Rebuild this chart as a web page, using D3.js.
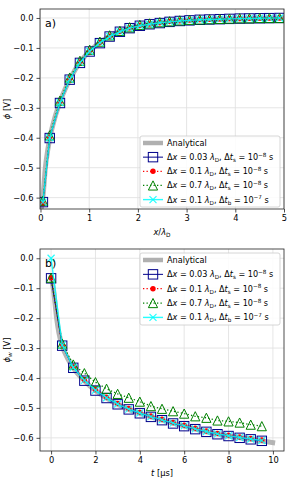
<!DOCTYPE html>
<html><head><meta charset="utf-8">
<script src="https://cdn.jsdelivr.net/npm/d3@7"></script>
<style>html,body{margin:0;padding:0;background:#fff;}svg{display:block;font-family:"DejaVu Sans",sans-serif;}</style>
</head><body>
<svg id="c" width="287" height="483"></svg>
<script>
// ---- Panel a) data: phi vs x/lambda_D
const aAnalyticX = [0, 0.03, 0.06, 0.1, 0.15, 0.2, 0.3, 0.4, 0.5, 0.6, 0.7, 0.8, 0.9, 1.0, 1.2, 1.4, 1.6, 1.8, 2.0, 2.5, 3.0, 3.5, 4.0, 4.5, 5.0];
const aAnalyticY = [-0.645, -0.625, -0.58, -0.50, -0.44, -0.395, -0.330, -0.281, -0.240, -0.206, -0.176, -0.150, -0.130, -0.112, -0.084, -0.063, -0.047, -0.035, -0.027, -0.014, -0.008, -0.005, -0.003, -0.0015, 0.0];
const aX = [0.05, 0.19, 0.40, 0.60, 0.81, 1.01, 1.22, 1.42, 1.63, 1.83, 2.04, 2.24, 2.45, 2.65, 2.86, 3.06, 3.27, 3.47, 3.68, 3.88, 4.09, 4.29, 4.50, 4.70, 4.91];
const aSq  = [-0.615, -0.401, -0.284, -0.206, -0.150, -0.112, -0.084, -0.062, -0.046, -0.034, -0.026, -0.021, -0.017, -0.013, -0.010, -0.008, -0.006, -0.005, -0.004, -0.003, -0.002, -0.0015, -0.001, -0.0005, 0.0];
const aDot = [-0.620, -0.398, -0.281, -0.204, -0.148, -0.110, -0.082, -0.061, -0.045, -0.033, -0.025, -0.020, -0.016, -0.012, -0.009, -0.007, -0.005, -0.004, -0.003, -0.002, -0.0015, -0.001, -0.0005, 0.0, 0.0];
const aTri = [-0.610, -0.392, -0.276, -0.199, -0.143, -0.106, -0.079, -0.058, -0.043, -0.031, -0.023, -0.018, -0.014, -0.011, -0.008, -0.006, -0.005, -0.004, -0.003, -0.002, -0.001, -0.001, 0.0, 0.0, 0.0];
const aCyan = [-0.615, -0.400, -0.283, -0.205, -0.149, -0.111, -0.083, -0.062, -0.046, -0.034, -0.026, -0.021, -0.016, -0.013, -0.010, -0.008, -0.006, -0.005, -0.004, -0.003, -0.002, -0.0015, -0.001, -0.0005, 0.0];
const aXTicks = [0, 1, 2, 3, 4, 5];
const aYTicks = [0.0, -0.1, -0.2, -0.3, -0.4, -0.5, -0.6];

// ---- Panel b) data: phi_w vs t [us]
const bAnalyticT = [0, 0.1, 0.25, 0.35, 0.5, 0.75, 1, 1.5, 2, 2.5, 3, 3.5, 4, 5, 6, 7, 8, 9, 10.1];
const bAnalyticY = [-0.06, -0.10, -0.20, -0.248, -0.292, -0.335, -0.366, -0.409, -0.442, -0.467, -0.488, -0.505, -0.518, -0.541, -0.561, -0.580, -0.594, -0.605, -0.617];
const bT = [0, 0.5, 1.0, 1.5, 2.0, 2.5, 3.0, 3.5, 4.0, 4.5, 5.0, 5.5, 6.0, 6.5, 7.0, 7.5, 8.0, 8.5, 9.0, 9.5];
const bSq  = [-0.067, -0.292, -0.366, -0.409, -0.442, -0.467, -0.488, -0.505, -0.518, -0.530, -0.541, -0.552, -0.561, -0.571, -0.580, -0.588, -0.594, -0.600, -0.605, -0.610];
const bDot = [-0.065, -0.290, -0.363, -0.406, -0.439, -0.464, -0.485, -0.502, -0.515, -0.527, -0.538, -0.549, -0.558, -0.568, -0.577, -0.585, -0.591, -0.597, -0.602, -0.607];
const bTri = [-0.065, -0.285, -0.355, -0.384, -0.414, -0.436, -0.453, -0.466, -0.479, -0.494, -0.503, -0.511, -0.519, -0.528, -0.533, -0.542, -0.545, -0.549, -0.556, -0.561];
const bCyan = [0.0, -0.290, -0.365, -0.408, -0.441, -0.466, -0.487, -0.504, -0.517, -0.529, -0.540, -0.551, -0.560, -0.570, -0.579, -0.587, -0.593, -0.599, -0.604, -0.609];
const bXTicks = [0, 2, 4, 6, 8, 10];
const bYTicks = [0.0, -0.1, -0.2, -0.3, -0.4, -0.5, -0.6];

// legend labels (mathtext segments)
const legendLabels = [
  [{t:"Analytical"}],
  [{t:"Δ"},{t:"x",i:1},{t:" = 0.03 "},{t:"λ",i:1},{t:"D",sub:1},{t:", Δ"},{t:"t",i:1},{t:"s",sub:1},{t:" = 10"},{t:"−8",sup:1},{t:" s"}],
  [{t:"Δ"},{t:"x",i:1},{t:" = 0.1 "},{t:"λ",i:1},{t:"D",sub:1},{t:", Δ"},{t:"t",i:1},{t:"s",sub:1},{t:" = 10"},{t:"−8",sup:1},{t:" s"}],
  [{t:"Δ"},{t:"x",i:1},{t:" = 0.7 "},{t:"λ",i:1},{t:"D",sub:1},{t:", Δ"},{t:"t",i:1},{t:"s",sub:1},{t:" = 10"},{t:"−8",sup:1},{t:" s"}],
  [{t:"Δ"},{t:"x",i:1},{t:" = 0.1 "},{t:"λ",i:1},{t:"D",sub:1},{t:", Δ"},{t:"t",i:1},{t:"b",sub:1},{t:" = 10"},{t:"−7",sup:1},{t:" s"}]
];

const svg = d3.select("#c");
const FS = 8.3;
const fmt = v => (v === 0 ? "0.0" : d3.format(".1f")(v).replace("-", "−"));

function richText(g, x, y, segs, fs, anchor) {
  const t = g.append("text").attr("x", x).attr("y", y).attr("font-size", fs).attr("fill", "#000");
  if (anchor) t.attr("text-anchor", anchor);
  let off = 0;
  segs.forEach(s => {
    const sp = t.append("tspan").text(s.t);
    let target = 0, size = fs;
    if (s.sub) { target = fs * 0.25; size = fs * 0.7; }
    if (s.sup) { target = -fs * 0.42; size = fs * 0.7; }
    sp.attr("dy", target - off).attr("font-size", size);
    off = target;
    if (s.i) sp.attr("font-style", "italic");
  });
  return t;
}

const styles = {
  sq:   {color: "#00008b"},
  dot:  {color: "#ff0000"},
  tri:  {color: "#008000"},
  cyan: {color: "#00ffff"}
};

function marker(g, kind, cx, cy) {
  if (kind === "sq") {
    g.append("rect").attr("x", cx - 4.7).attr("y", cy - 4.7).attr("width", 9.4).attr("height", 9.4)
      .attr("fill", "none").attr("stroke", styles.sq.color).attr("stroke-width", 1);
  } else if (kind === "dot") {
    g.append("circle").attr("cx", cx).attr("cy", cy).attr("r", 2.7).attr("fill", styles.dot.color);
  } else if (kind === "tri") {
    const r = 4.6;
    g.append("path").attr("d", `M${cx},${cy - r}L${cx - r},${cy + r}L${cx + r},${cy + r}Z`)
      .attr("fill", "none").attr("stroke", styles.tri.color).attr("stroke-width", 1);
  } else if (kind === "cyan") {
    const r = 3.5;
    g.append("path").attr("d", `M${cx - r},${cy - r}L${cx + r},${cy + r}M${cx - r},${cy + r}L${cx + r},${cy - r}`)
      .attr("stroke", styles.cyan.color).attr("stroke-width", 1.2).attr("stroke-opacity", 0.85).attr("fill", "none");
  }
}

function lineStyle(p, kind) {
  if (kind === "sq") p.attr("stroke", styles.sq.color).attr("stroke-width", 1);
  if (kind === "dot") p.attr("stroke", styles.dot.color).attr("stroke-width", 1.3).attr("stroke-dasharray", "1.3,2.2");
  if (kind === "tri") p.attr("stroke", styles.tri.color).attr("stroke-width", 1.3).attr("stroke-dasharray", "1.3,2.2");
  if (kind === "cyan") p.attr("stroke", styles.cyan.color).attr("stroke-width", 1.4).attr("stroke-opacity", 0.85);
  p.attr("fill", "none");
}

function panel(o) {
  const x = d3.scaleLinear().domain(o.xd).range([o.l, o.r]);
  const y = d3.scaleLinear().domain(o.yd).range([o.b, o.t]);
  const g = svg.append("g");
  const clipId = "clip" + o.id;
  svg.append("clipPath").attr("id", clipId).append("rect")
    .attr("x", o.l).attr("y", o.t).attr("width", o.r - o.l).attr("height", o.b - o.t);

  // grid
  const grid = g.append("g").attr("stroke", "#e2e2e2").attr("stroke-width", 0.9);
  o.xticks.forEach(v => grid.append("line").attr("x1", x(v)).attr("x2", x(v)).attr("y1", o.t).attr("y2", o.b));
  o.yticks.forEach(v => grid.append("line").attr("y1", y(v)).attr("y2", y(v)).attr("x1", o.l).attr("x2", o.r));

  const plot = g.append("g").attr("clip-path", `url(#${clipId})`);
  const ln = d3.line().x(d => x(d[0])).y(d => y(d[1]));
  const lnSmooth = d3.line().x(d => x(d[0])).y(d => y(d[1])).curve(d3.curveMonotoneX);

  plot.append("path").datum(o.ax.map((v, i) => [v, o.ay[i]])).attr("d", lnSmooth)
    .attr("fill", "none").attr("stroke", "#a8a8a8").attr("stroke-width", 5).attr("stroke-opacity", 0.85);

  o.series.forEach(s => {
    const pts = o.sx.map((v, i) => [v, s.v[i]]);
    const p = plot.append("path").datum(pts).attr("d", ln);
    lineStyle(p, s.kind);
    const mg = plot.append("g");
    pts.forEach(d => marker(mg, s.kind, x(d[0]), y(d[1])));
  });

  // axes
  const xa = d3.axisBottom(x).tickValues(o.xticks).tickSize(3.5).tickPadding(3).tickFormat(d3.format("d"));
  const ya = d3.axisLeft(y).tickValues(o.yticks).tickSize(3.5).tickPadding(3).tickFormat(fmt);
  const gx = g.append("g").attr("transform", `translate(0,${o.b})`).call(xa);
  const gy = g.append("g").attr("transform", `translate(${o.l},0)`).call(ya);
  [gx, gy].forEach(a => {
    a.select(".domain").remove();
    a.selectAll("line").attr("stroke", "#222").attr("stroke-width", 0.8);
    a.selectAll("text").attr("font-size", FS).attr("font-family", "DejaVu Sans").attr("fill", "#000");
  });
  g.append("rect").attr("x", o.l).attr("y", o.t).attr("width", o.r - o.l).attr("height", o.b - o.t)
    .attr("fill", "none").attr("stroke", "#222").attr("stroke-width", 0.8);

  // labels
  richText(g, (o.l + o.r) / 2, o.xlabY, o.xlabel, FS, "middle");
  const yl = richText(g, 0, 0, o.ylabel, FS, "middle");
  yl.attr("transform", `translate(${o.ylabX},${(o.t + o.b) / 2}) rotate(-90)`);
  g.append("text").attr("x", o.l + 5).attr("y", o.t + 18).attr("font-size", 11).text(o.tag);

  // legend
  const L = o.leg;
  const lg = g.append("g");
  lg.append("rect").attr("x", L.x).attr("y", L.y).attr("width", L.w).attr("height", L.h).attr("rx", 2)
    .attr("fill", "#fff").attr("fill-opacity", 0.85).attr("stroke", "#cccccc").attr("stroke-width", 0.8);
  const kinds = ["an", "sq", "dot", "tri", "cyan"];
  kinds.forEach((k, i) => {
    const cy = L.y + 7 + i * L.dy;
    const x1 = L.x + 3, x2 = L.x + 23, xm = (x1 + x2) / 2;
    if (k === "an") {
      lg.append("line").attr("x1", x1).attr("x2", x2).attr("y1", cy).attr("y2", cy)
        .attr("stroke", "#b0b0b0").attr("stroke-width", 4.5);
    } else {
      const p = lg.append("path").attr("d", `M${x1},${cy}L${x2},${cy}`);
      lineStyle(p, k);
      marker(lg, k, xm, cy);
    }
    richText(lg, L.x + 27, cy + 3, legendLabels[i], 8.1);
  });
}

panel({
  id: "a", l: 40, r: 284, t: 9, b: 209,
  xd: [-0.01, 5], yd: [-0.638, 0.03],
  xticks: aXTicks, yticks: aYTicks,
  ax: aAnalyticX, ay: aAnalyticY, sx: aX,
  series: [{kind: "sq", v: aSq}, {kind: "dot", v: aDot}, {kind: "tri", v: aTri}, {kind: "cyan", v: aCyan}],
  xlabel: [{t:"x",i:1},{t:"/"},{t:"λ",i:1},{t:"D",sub:1}], xlabY: 235,
  ylabel: [{t:"ϕ",i:1},{t:" [V]"}], ylabX: 10,
  tag: "a)",
  leg: {x: 140, y: 136, w: 140, h: 71, dy: 14.15}
});

panel({
  id: "b", l: 40, r: 284, t: 249, b: 451,
  xd: [-0.5, 10.5], yd: [-0.644, 0.031],
  xticks: bXTicks, yticks: bYTicks,
  ax: bAnalyticT, ay: bAnalyticY, sx: bT,
  series: [{kind: "sq", v: bSq}, {kind: "dot", v: bDot}, {kind: "tri", v: bTri}, {kind: "cyan", v: bCyan}],
  xlabel: [{t:"t",i:1},{t:" [μs]"}], xlabY: 476,
  ylabel: [{t:"ϕ",i:1},{t:"w",i:1,sub:1},{t:" [V]"}], ylabX: 10,
  tag: "b)",
  leg: {x: 140, y: 253, w: 140, h: 72, dy: 14.35}
});
</script>
</body></html>
